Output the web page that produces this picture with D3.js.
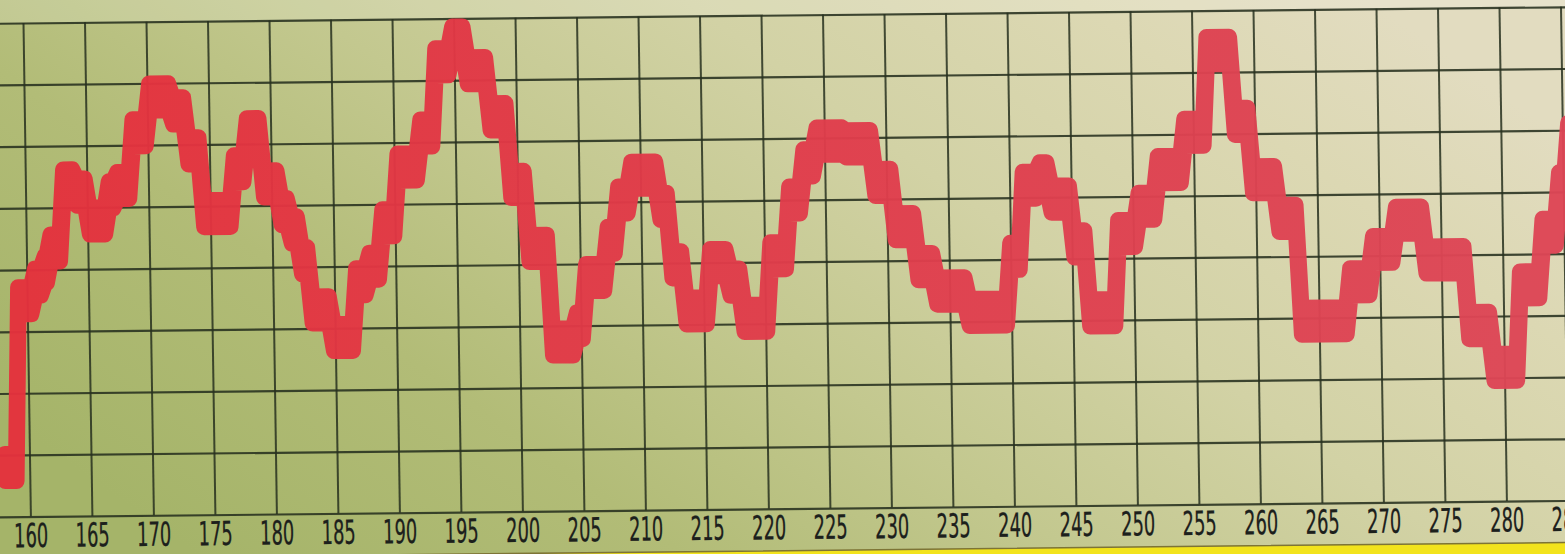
<!DOCTYPE html>
<html>
<head>
<meta charset="utf-8">
<script src="https://cdn.jsdelivr.net/npm/d3@7.9.0/dist/d3.min.js"></script>
<style>
  html, body { margin: 0; padding: 0; overflow: hidden; background: #c8c996; }
  svg { display: block; }
</style>
</head>
<body>
<svg id="chart" width="1565" height="554"></svg>
<script>
// chart recorder strip: tick labels along the bottom, pen level in grid divisions (0 = bottom line, 8 = top line)
const tickLabels = [160, 165, 170, 175, 180, 185, 190, 195, 200, 205, 210, 215, 220,
  225, 230, 235, 240, 245, 250, 255, 260, 265, 270, 275, 280, 285];
const gridLevels = [0, 1, 2, 3, 4, 5, 6, 7, 8];

// start of each step of the trace and the pen level it holds until the next one
const penX = [158, 159.1, 160.5, 161.3, 161.8, 162.9, 164.0, 165.0, 166.6, 167.3,
  168.6, 170.0, 171.9, 173.1, 174.3, 176.8, 177.9, 179.2, 180.6, 181.4,
  182.2, 183.0, 184.7, 186.6, 187.7, 188.8, 190.1, 192.0, 193.3, 194.7,
  195.9, 197.7, 199.3, 200.7, 202.5, 204.5, 205.3, 207.1, 208.0, 209.1,
  211.4, 212.3, 213.4, 215.4, 217.0, 218.1, 220.3, 221.9, 223.1, 224.2,
  226.6, 228.9, 230.5, 232.3, 233.8, 236.4, 239.8, 240.9, 242.3, 243.2,
  245.0, 246.2, 248.6, 250.3, 251.9, 254.1, 256.0, 258.2, 259.6, 261.7,
  263.4, 267.4, 269.3, 271.2, 273.6, 277.0, 279.0, 281.2, 283.1, 284.5,
  285.3, 287];
const penLevel = [0.8, 3.5, 3.8, 4.0, 4.35, 5.4, 5.25, 4.78, 5.2, 5.35,
  6.2, 6.78, 6.55, 5.9, 4.88, 5.6, 6.2, 5.35, 4.9, 4.6,
  4.1, 3.3, 2.85, 3.75, 4.0, 4.7, 5.6, 6.15, 7.3, 7.65,
  7.15, 6.4, 5.3, 4.26, 2.74, 3.0, 3.78, 4.38, 5.03, 5.43,
  4.92, 3.97, 3.22, 4.0, 3.68, 3.09, 4.1, 5.0, 5.6, 5.95,
  5.9, 5.27, 4.55, 3.9, 3.5, 3.15, 4.05, 5.2, 5.35, 4.97,
  4.24, 3.12, 4.4, 4.84, 5.43, 6.03, 7.35, 6.2, 5.25, 4.62,
  2.95, 3.58, 4.1, 4.57, 3.92, 2.85, 2.17, 3.5, 4.35, 5.1,
  5.9, 5.9];

const width = 1565, height = 554;
const plotW = 1476, plotH = 493.6;   // 160..280 across, 8 divisions down
const band = 0.22;                   // half thickness of the ink band, in divisions
const ramp = 0.18;                   // half width of a pen jump, in chart units

const svg = d3.select('#chart');
const defs = svg.append('defs');

const paper = defs.append('linearGradient')
  .attr('id', 'paper')
  .attr('x1', 0).attr('y1', 0.75).attr('x2', 1).attr('y2', 0.25);
paper.append('stop').attr('offset', 0).attr('stop-color', '#a5b469');
paper.append('stop').attr('offset', 0.25).attr('stop-color', '#b2bc77');
paper.append('stop').attr('offset', 0.45).attr('stop-color', '#c3c88f');
paper.append('stop').attr('offset', 0.65).attr('stop-color', '#d2d2a5');
paper.append('stop').attr('offset', 0.85).attr('stop-color', '#dcd8b3');
paper.append('stop').attr('offset', 1).attr('stop-color', '#e2dcc0');

const ink = defs.append('linearGradient')
  .attr('id', 'ink')
  .attr('gradientUnits', 'userSpaceOnUse')
  .attr('x1', 0).attr('y1', 0).attr('x2', plotW).attr('y2', 0);
ink.append('stop').attr('offset', 0).attr('stop-color', '#e5313d');
ink.append('stop').attr('offset', 0.5).attr('stop-color', '#e13c4b');
ink.append('stop').attr('offset', 1).attr('stop-color', '#de4656');

svg.append('rect')
  .attr('width', width).attr('height', height)
  .attr('fill', 'url(#paper)');

// the photographed sheet is slightly skewed
const g = svg.append('g')
  .attr('transform', 'translate(23,23) matrix(1,-0.0105,0.015,1,0,0)');

const x = d3.scaleLinear().domain([160, 280]).range([0, plotW]);
const y = d3.scaleLinear().domain([0, 8]).range([plotH, 0]);

// lighter margin above the top line
g.append('rect')
  .attr('x', -60).attr('y', -60)
  .attr('width', plotW + 160).attr('height', 60)
  .attr('fill', '#fff').attr('opacity', 0.18);

// horizontal rules
const yAxis = d3.axisLeft(y).tickValues(gridLevels).tickSize(-(plotW + 160)).tickFormat('');
g.append('g')
  .attr('transform', 'translate(-60,0)')
  .call(yAxis)
  .call(a => a.select('.domain').remove())
  .call(a => a.selectAll('.tick line')
    .attr('stroke', '#27301f').attr('stroke-width', 2.2).attr('stroke-opacity', 0.88));

// vertical rules with the chart numbers below
const xAxis = d3.axisBottom(x).tickValues(tickLabels).tickSize(plotH).tickPadding(7);
const xg = g.append('g').call(xAxis);
xg.select('.domain').remove();
xg.selectAll('.tick line')
  .attr('stroke', '#27301f').attr('stroke-width', 2).attr('stroke-opacity', 0.85);
xg.selectAll('.tick text')
  .attr('fill', '#1c201c')
  .attr('stroke', '#1c201c').attr('stroke-width', 0.3)
  .style('font-family', '"Liberation Sans Narrow", "DejaVu Sans Condensed", "Liberation Sans", sans-serif')
  .style('font-size', '33px')
  .attr('textLength', 34)
  .attr('lengthAdjust', 'spacingAndGlyphs');

// pen trace: each level is held until the next step, with a short jump between
const trace = [];
penX.forEach((px, i) => {
  const next = i < penX.length - 1 ? penX[i + 1] : px;
  trace.push({ x: i === 0 ? px : px + ramp, v: penLevel[i] });
  if (i < penX.length - 1) trace.push({ x: next - ramp, v: penLevel[i] });
});
const area = d3.area()
  .x(d => x(d.x))
  .y0(d => y(d.v - band))
  .y1(d => y(d.v + band))
  .curve(d3.curveLinear);

g.append('path')
  .datum(trace)
  .attr('d', area)
  .attr('fill', 'url(#ink)')
  .attr('stroke', 'url(#ink)')
  .attr('stroke-width', 16)
  .attr('stroke-linejoin', 'round')
  .attr('opacity', 0.96);

// yellow edge of the page at the bottom
g.append('rect')
  .attr('x', -60).attr('y', plotH + 42)
  .attr('width', plotW + 200).attr('height', 60)
  .attr('fill', '#f2e31c')
  .attr('stroke', '#7d7436').attr('stroke-width', 1.5);
</script>
</body>
</html>
